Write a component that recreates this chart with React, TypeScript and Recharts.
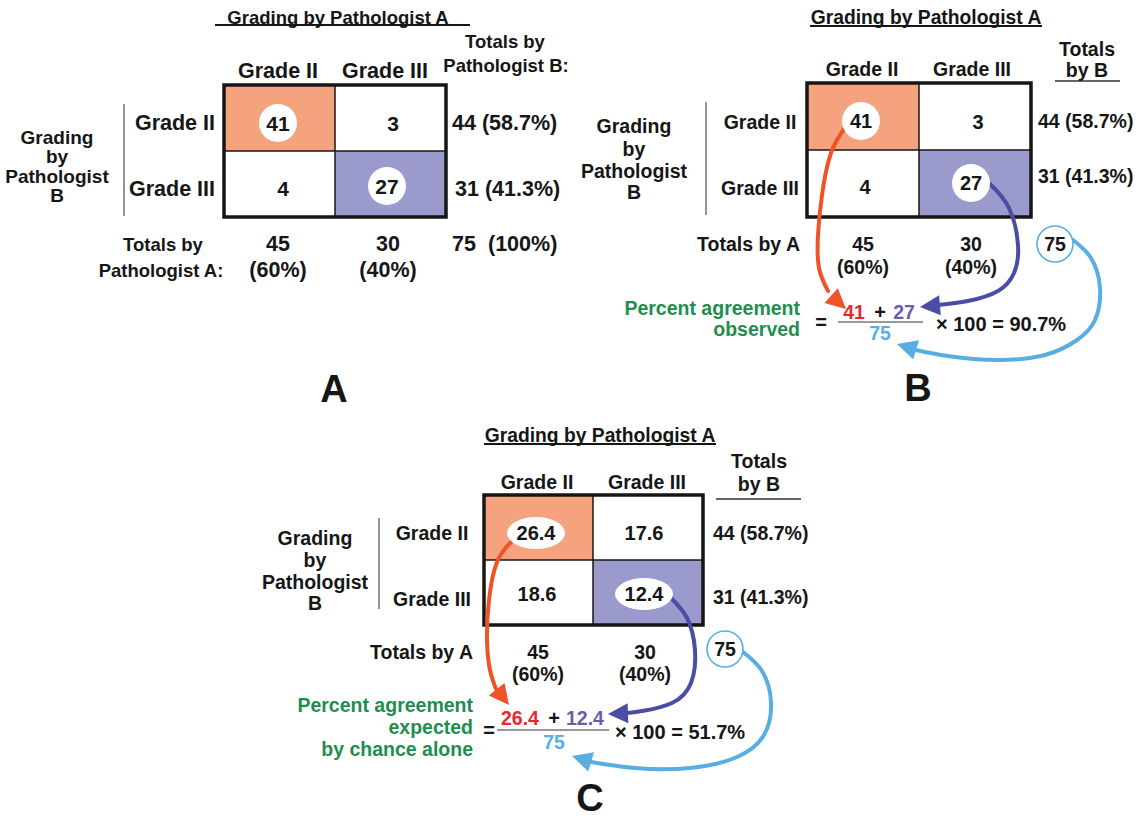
import React from "react";
import {
  ComposedChart,
  XAxis,
  YAxis,
  ReferenceArea,
  ReferenceLine,
  ReferenceDot,
  Line,
} from "recharts";

// ---------------- DATA ----------------
const gradeLabels = ["Grade II", "Grade III"];
const sideLabel = ["Grading", "by", "Pathologist", "B"];
const titleText = "Grading by Pathologist A";
const observedRowII = [41, 3];
const observedRowIII = [4, 27];
const expectedRowII = [26.4, 17.6];
const expectedRowIII = [18.6, 12.4];
const totalsByB = [44, 31];
const pctByB = ["(58.7%)", "(41.3%)"];
const totalsByA = [45, 30];
const pctByA = ["(60%)", "(40%)"];
const grandTotal = 75;
const grandPct = "(100%)";
const agreementObserved = "90.7%";
const agreementExpected = "51.7%";
const observedLabel = ["Percent agreement", "observed"];
const expectedLabel = ["Percent agreement", "expected", "by chance alone"];
const panelLetters = ["A", "B", "C"];

// ---------------- STYLE ----------------
const W = 1142;
const H = 818;
const FONT = '"Liberation Sans", Arial, Helvetica, sans-serif';
const INK = "#161616";
const ORANGE_CELL = "#F4A37E";
const PURPLE_CELL = "#9A9ACC";
const RED_TXT = "#E8282E";
const RED_ARROW = "#EF5328";
const PURPLE_TXT = "#6E5CA8";
const PURPLE_ARROW = "#4A4CA6";
const BLUE = "#58AEE3";
const GREEN = "#1E8E4E";

type Lbl = { x: number; y: number; t: string; s: number; a: string; c: string };
const labels: Lbl[] = [];
const L = (x: number, y: number, t: any, s: number, a = "middle", c = INK) =>
  labels.push({ x, y, t: String(t), s, a, c });

type Seg = { x1: number; y1: number; x2: number; y2: number; c: string; w: number };
const segs: Seg[] = [];
const S = (x1: number, y1: number, x2: number, y2: number, c = INK, w = 1.5) =>
  segs.push({ x1, y1, x2, y2, c, w });

type Rect = { x1: number; x2: number; y1: number; y2: number; fill: string; stroke: string; w: number };
const rects: Rect[] = [];

type Blob = { x: number; y: number; rx: number; ry: number; stroke?: string };
const blobs: Blob[] = [];

type Arrow = { pts: { x: number; y: number }[]; c: string; tip: { x: number; y: number }; ang: number };
const arrows: Arrow[] = [];

// --------- generic table panel builder ---------
function table(p: any, rowII: number[], rowIII: number[]) {
  const { x0, xm, x1, y0, ym, y1 } = p.t;
  rects.push({ x1: x0, x2: xm, y1: y0, y2: ym, fill: ORANGE_CELL, stroke: "none", w: 0 });
  rects.push({ x1: xm, x2: x1, y1: ym, y2: y1, fill: PURPLE_CELL, stroke: "none", w: 0 });
  S(xm, y0, xm, y1, INK, 1.5);
  S(x0, ym, x1, ym, INK, 1.5);
  rects.push({ x1: x0, x2: x1, y1: y0, y2: y1, fill: "none", stroke: INK, w: 3.5 });
  gradeLabels.forEach((g, i) => L(p.colX[i], p.headY, g, p.fs));
  gradeLabels.forEach((g, i) => L(p.rowLX, p.rowY[i], g, p.fs, p.rowLA));
  S(p.vline.x, p.vline.y0, p.vline.x, p.vline.y1, "#7a7a7a", 1.6);
  sideLabel.forEach((s, i) => L(p.sideX, p.sideY[i], s, p.fsSide));
  const vals = [rowII[0], rowII[1], rowIII[0], rowIII[1]];
  p.cells.forEach((c: number[], i: number) => L(c[0], c[1], vals[i], p.fsCell));
  totalsByB.forEach((t, i) => L(p.rtX[i], p.rowYR[i], `${t} ${pctByB[i]}`, p.fs, "start"));
  totalsByA.forEach((t, i) => {
    L(p.colTX[i], p.totY[0], t, p.fs);
    L(p.colTX[i], p.totY[1], pctByA[i], p.fs);
  });
  L(p.title.x, p.title.y, titleText, p.title.s);
  S(p.title.u0, p.title.uy, p.title.u1, p.title.uy, INK, 1.8);
}

// Panel A
const pA = {
  t: { x0: 224, xm: 335, x1: 446, y0: 85, ym: 151, y1: 217 },
  colX: [278, 385],
  headY: 71,
  rowLX: 215,
  rowLA: "end",
  rowY: [123, 189],
  rowYR: [123, 189],
  vline: { x: 124, y0: 104, y1: 216 },
  sideX: 57,
  sideY: [137, 156, 176, 195],
  cells: [
    [278, 123],
    [393, 123],
    [283, 188],
    [387, 186],
  ],
  rtX: [452, 455],
  colTX: [278, 388],
  totY: [244, 270],
  fs: 21.5,
  fsSide: 19,
  fsCell: 21,
  title: { x: 338, y: 17, s: 18.5, u0: 215, u1: 470, uy: 25 },
};
table(pA, observedRowII, observedRowIII);
blobs.push({ x: 278, y: 123, rx: 19, ry: 19 }, { x: 387, y: 186, rx: 19, ry: 19 });
L(505, 41, "Totals by", 18.5);
L(506, 65, "Pathologist B:", 18.5);
L(163, 244, "Totals by", 18.5);
L(161, 270, "Pathologist A:", 18.5);
L(452, 244, grandTotal, 21.5, "start");
L(488, 244, grandPct, 21.5, "start");
L(334, 389, panelLetters[0], 38);

// Panel B
const pB = {
  t: { x0: 807, xm: 919, x1: 1031, y0: 83, ym: 150, y1: 217 },
  colX: [862, 972],
  headY: 69,
  rowLX: 760,
  rowLA: "middle",
  rowY: [122, 188],
  rowYR: [121, 176],
  vline: { x: 706, y0: 102, y1: 215 },
  sideX: 634,
  sideY: [126, 149, 171, 192],
  cells: [
    [861, 121],
    [978, 122],
    [865, 187],
    [971, 183],
  ],
  rtX: [1038, 1038],
  colTX: [863, 971],
  totY: [244, 267],
  fs: 19.5,
  fsSide: 19.5,
  fsCell: 20,
  title: { x: 926, y: 17, s: 19.3, u0: 810, u1: 1042, uy: 26 },
};
blobs.push({ x: 861, y: 121, rx: 19, ry: 19 }, { x: 971, y: 183, rx: 19, ry: 19 });
blobs.push({ x: 1055, y: 244, rx: 18, ry: 18, stroke: BLUE });
table(pB, observedRowII, observedRowIII);
L(1087, 49, "Totals", 19.5);
L(1087, 70, "by B", 19.5);
S(1055, 81, 1120, 81, "#333", 1.5);
L(800, 244, "Totals by A", 19.5, "end");
L(1055, 244, grandTotal, 19.5);
L(800, 308, observedLabel[0], 19.5, "end", GREEN);
L(800, 329, observedLabel[1], 19.5, "end", GREEN);
L(821, 322, "=", 20);
L(854, 312, observedRowII[0], 19.5, "middle", RED_TXT);
L(880, 312, "+", 20);
L(904, 312, observedRowIII[1], 19.5, "middle", PURPLE_TXT);
S(838, 322, 923, 322, "#999", 2);
L(880, 333, grandTotal, 19.5, "middle", BLUE);
L(936, 324, `× 100 = ${agreementObserved}`, 20, "start");
L(918, 388, panelLetters[1], 38);

// Panel C
const pC = {
  t: { x0: 484, xm: 593, x1: 703, y0: 495, ym: 560, y1: 625 },
  colX: [537, 647],
  headY: 482,
  rowLX: 432,
  rowLA: "middle",
  rowY: [533, 599],
  rowYR: [533, 597],
  vline: { x: 379, y0: 518, y1: 609 },
  sideX: 315,
  sideY: [538, 560, 582, 603],
  cells: [
    [536, 533],
    [644, 533],
    [537, 594],
    [644, 594],
  ],
  rtX: [713, 713],
  colTX: [538, 645],
  totY: [652, 674],
  fs: 19.5,
  fsSide: 19.5,
  fsCell: 20,
  title: { x: 600, y: 435, s: 19.3, u0: 484, u1: 716, uy: 444 },
};
blobs.push({ x: 536, y: 533, rx: 29, ry: 16 }, { x: 644, y: 594, rx: 29, ry: 16 });
blobs.push({ x: 725, y: 649, rx: 18, ry: 18, stroke: BLUE });
table(pC, expectedRowII, expectedRowIII);
L(759, 461, "Totals", 19.5);
L(759, 484, "by B", 19.5);
S(716, 499, 801, 499, "#333", 1.5);
L(473, 652, "Totals by A", 19.5, "end");
L(725, 649, grandTotal, 19.5);
L(473, 705, expectedLabel[0], 19.5, "end", GREEN);
L(473, 727, expectedLabel[1], 19.5, "end", GREEN);
L(473, 749, expectedLabel[2], 19.5, "end", GREEN);
L(489, 730, "=", 20);
L(520, 718, expectedRowII[0], 19.5, "middle", RED_TXT);
L(554, 718, "+", 20);
L(585, 718, expectedRowIII[1], 19.5, "middle", PURPLE_TXT);
S(497, 730, 609, 730, "#999", 2);
L(554, 742, grandTotal, 19.5, "middle", BLUE);
L(615, 732, `× 100 = ${agreementExpected}`, 20, "start");
L(590, 798, panelLetters[2], 38);

// Arrows (annotation paths)
arrows.push(
  {
    pts: [
      { x: 846, y: 126 },
      { x: 831, y: 153 },
      { x: 822, y: 195 },
      { x: 818, y: 235 },
      { x: 819, y: 268 },
      { x: 828, y: 291 },
    ],
    c: RED_ARROW,
    tip: { x: 846, y: 309 },
    ang: 42,
  },
  {
    pts: [
      { x: 990, y: 184 },
      { x: 1009, y: 208 },
      { x: 1018, y: 245 },
      { x: 1014, y: 273 },
      { x: 998, y: 291 },
      { x: 968, y: 301 },
      { x: 938, y: 305 },
    ],
    c: PURPLE_ARROW,
    tip: { x: 920, y: 307 },
    ang: 175,
  },
  {
    pts: [
      { x: 1073, y: 240 },
      { x: 1091, y: 258 },
      { x: 1100, y: 288 },
      { x: 1095, y: 320 },
      { x: 1077, y: 340 },
      { x: 1045, y: 355 },
      { x: 997, y: 360 },
      { x: 948, y: 356 },
      { x: 916, y: 350 },
    ],
    c: BLUE,
    tip: { x: 897, y: 344 },
    ang: 197,
  },
  {
    pts: [
      { x: 511, y: 542 },
      { x: 497, y: 562 },
      { x: 489, y: 600 },
      { x: 487, y: 640 },
      { x: 490, y: 670 },
      { x: 496, y: 689 },
    ],
    c: RED_ARROW,
    tip: { x: 509, y: 705 },
    ang: 52,
  },
  {
    pts: [
      { x: 671, y: 598 },
      { x: 687, y: 618 },
      { x: 695, y: 650 },
      { x: 691, y: 683 },
      { x: 672, y: 703 },
      { x: 642, y: 711 },
      { x: 627, y: 713 },
    ],
    c: PURPLE_ARROW,
    tip: { x: 608, y: 714 },
    ang: 178,
  },
  {
    pts: [
      { x: 743, y: 652 },
      { x: 762, y: 671 },
      { x: 771, y: 702 },
      { x: 764, y: 735 },
      { x: 737, y: 757 },
      { x: 690, y: 768 },
      { x: 635, y: 768 },
      { x: 591, y: 762 },
    ],
    c: BLUE,
    tip: { x: 572, y: 756 },
    ang: 197,
  }
);

// ---------------- COMPONENT ----------------
export default function App() {
  return (
    <div style={{ position: "absolute", left: 0, top: 0, width: W, height: H, background: "#fff" }}>
      <ComposedChart width={W} height={H} margin={{ top: 0, right: 0, bottom: 0, left: 0 }}>
        <XAxis type="number" dataKey="x" domain={[0, W]} allowDataOverflow hide />
        <YAxis type="number" domain={[0, H]} reversed allowDataOverflow hide />
        {rects.map((r, i) => (
          <ReferenceArea
            key={"r" + i}
            x1={r.x1}
            x2={r.x2}
            y1={r.y1}
            y2={r.y2}
            fill={r.fill}
            fillOpacity={1}
            stroke={r.stroke}
            strokeWidth={r.w}
            ifOverflow="visible"
          />
        ))}
        {segs.map((s, i) => (
          <ReferenceLine
            key={"s" + i}
            segment={[
              { x: s.x1, y: s.y1 },
              { x: s.x2, y: s.y2 },
            ]}
            stroke={s.c}
            strokeWidth={s.w}
            ifOverflow="visible"
          />
        ))}
        {blobs.map((b, i) => (
          <ReferenceDot
            key={"b" + i}
            x={b.x}
            y={b.y}
            r={1}
            ifOverflow="visible"
            shape={(p: any) => (
              <ellipse
                cx={p.cx}
                cy={p.cy}
                rx={b.rx}
                ry={b.ry}
                fill="#fff"
                stroke={b.stroke || "none"}
                strokeWidth={1.6}
              />
            )}
          />
        ))}
        {arrows.map((a, i) => (
          <Line
            key={"a" + i}
            data={a.pts}
            dataKey="y"
            type="natural"
            stroke={a.c}
            strokeWidth={4}
            strokeLinecap="round"
            dot={false}
            activeDot={false}
            isAnimationActive={false}
          />
        ))}
        {arrows.map((a, i) => (
          <ReferenceDot
            key={"h" + i}
            x={a.tip.x}
            y={a.tip.y}
            r={1}
            ifOverflow="visible"
            shape={(p: any) => (
              <polygon
                points="0,0 -20,-10 -20,10"
                fill={a.c}
                stroke="none"
                transform={`translate(${p.cx},${p.cy}) rotate(${a.ang})`}
              />
            )}
          />
        ))}
        {labels.map((l, i) => (
          <ReferenceDot
            key={"t" + i}
            x={l.x}
            y={l.y}
            r={1}
            ifOverflow="visible"
            shape={(p: any) => (
              <text
                x={p.cx}
                y={p.cy}
                textAnchor={l.a as any}
                dominantBaseline="central"
                fontFamily={FONT}
                fontWeight="bold"
                fontSize={l.s}
                fill={l.c}
              >
                {l.t}
              </text>
            )}
          />
        ))}
      </ComposedChart>
    </div>
  );
}
